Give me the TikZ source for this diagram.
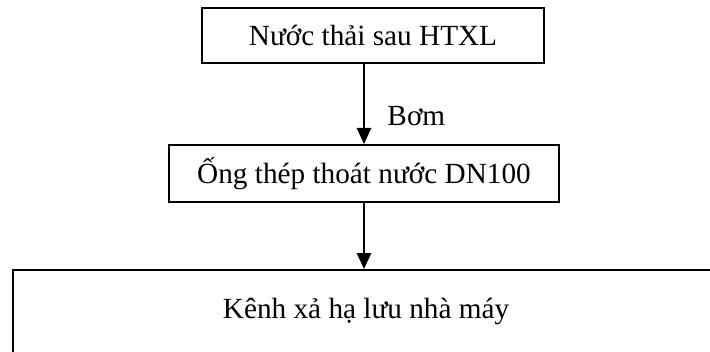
\documentclass[tikz,border=0pt]{standalone}
\usepackage{fontspec}
\setmainfont{Liberation Serif}
\usetikzlibrary{arrows.meta}
\begin{document}
\begin{tikzpicture}[x=0.025cm, y=-0.025cm, line width=0.05cm,
    font=\fontsize{20.8}{25}\selectfont,
    box/.style={draw=black, inner sep=0pt}]
    \useasboundingbox (0,0) rectangle (710,351);
    \node[box, minimum width=8.55cm, minimum height=1.375cm] (N) at (373,35.5) {Nước thải sau HTXL};
    \node[box, minimum width=9.75cm, minimum height=1.425cm] (O) at (364,173.5) {Ống thép thoát nước DN100};
    \node[box, anchor=north west, minimum width=17.65cm, text height=1.2cm, text depth=2cm] (K) at (12,269) {Kênh xả hạ lưu nhà máy};
    \draw[-{Triangle[length=0.4cm, width=0.36cm]}, line width=0.04cm] (O.north |- N.south) -- (O.north)
      node[pos=0.77, anchor=base west, xshift=0.45cm] (B) {Bơm};
    \draw[-{Triangle[length=0.4cm, width=0.36cm]}, line width=0.04cm] (O.south) -- (O.south |- K.north);
  \end{tikzpicture}
\end{document}
